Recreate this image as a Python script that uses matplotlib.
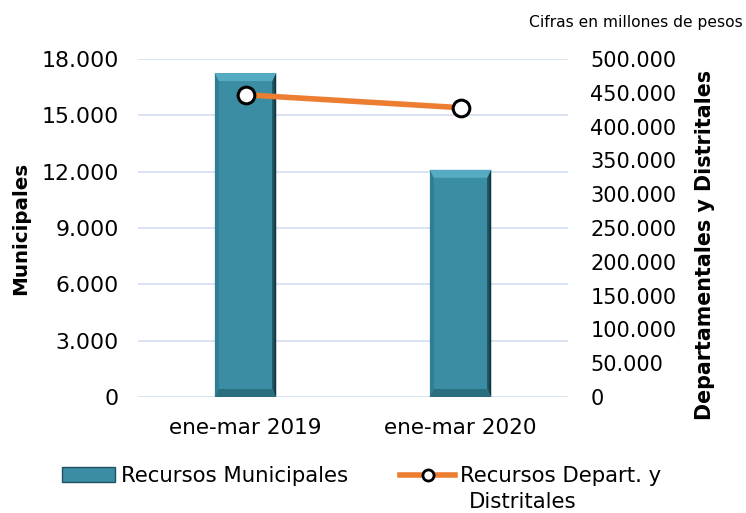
import matplotlib
matplotlib.use("Agg")
import matplotlib.pyplot as plt
import numpy as np
from matplotlib.lines import Line2D
from matplotlib.patches import Patch, Polygon
from matplotlib.ticker import FuncFormatter

categories = ["ene-mar 2019", "ene-mar 2020"]
municipales = [17250, 12100]
departamentales = [447000, 428000]
left_ticks = [0, 3000, 6000, 9000, 12000, 15000, 18000]
right_ticks = [0, 50000, 100000, 150000, 200000, 250000, 300000, 350000, 400000, 450000, 500000]

plt.rcParams['font.family'] = ['DejaVu Sans']

fig = plt.figure(figsize=(7.46, 5.13), dpi=100)
ax = fig.add_axes([138/746, 1-397/513, 430/746, 338/513])
ax2 = ax.twinx()

x = np.arange(len(categories))
face = "#3A8DA2"
bars = ax.bar(x, municipales, width=0.285, color=face, linewidth=0, zorder=3)

ax.set_xlim(-0.5, 1.5)
ax.set_ylim(0, 18000)
ax2.set_ylim(0, 500000)

# bevel effect derived from each bar's geometry
dx = 0.5 * 2 * 8 / 430      # ~8 px in data units (x)
dy = 18000 * 8 / 338        # ~8 px in data units (y)
for b in bars:
    x0, w, h = b.get_x(), b.get_width(), b.get_height()
    x1 = x0 + w
    top = Polygon([(x0, h), (x1, h), (x1 - dx, h - dy), (x0 + dx, h - dy)], closed=True,
                  facecolor="#55ACC2", linewidth=0, zorder=3.6)
    left = Polygon([(x0, 0), (x0, h), (x0 + dx, h - dy), (x0 + dx, dy)], closed=True,
                   facecolor="#317E92", linewidth=0, zorder=3.5)
    right = Polygon([(x1, 0), (x1, h), (x1 - dx, h - dy), (x1 - dx, dy)], closed=True,
                    facecolor="#1F5361", linewidth=0, zorder=3.5)
    right2 = Polygon([(x1, 0), (x1, h), (x1 - dx * 0.45, h - dy * 0.45), (x1 - dx * 0.45, dy * 0.45)],
                     closed=True, facecolor="#143842", linewidth=0, zorder=3.55)
    bottom = Polygon([(x0, 0), (x1, 0), (x1 - dx, dy), (x0 + dx, dy)], closed=True,
                     facecolor="#2A6E80", linewidth=0, zorder=3.6)
    for p in (left, right, right2, top, bottom):
        ax.add_patch(p)

ax2.plot(x, departamentales, color="#ED7D31", linewidth=4, marker="o", markersize=12,
         markerfacecolor="white", markeredgecolor="black", markeredgewidth=2.2, zorder=5)

ax.set_yticks(left_ticks)
ax2.set_yticks(right_ticks)
fmt = FuncFormatter(lambda v, p: f"{int(v):,}".replace(",", "."))
ax.yaxis.set_major_formatter(fmt)
ax2.yaxis.set_major_formatter(fmt)
ax.set_xticks(x)
ax.set_xticklabels(categories)

ax.grid(axis="y", color="#D6E0F0", linewidth=1.3, zorder=0)
ax.set_axisbelow(True)
for a in (ax, ax2):
    for s in a.spines.values():
        s.set_visible(False)
    a.tick_params(length=0, colors="#000000")
ax.tick_params(axis="y", labelsize=15.8, pad=14)
ax.tick_params(axis="x", labelsize=15.5, pad=15)
ax2.tick_params(axis="y", labelsize=15, pad=16)

ax.set_ylabel("Municipales", fontsize=14.3, fontweight="bold")
ax.yaxis.set_label_coords(-0.250, 0.5)
ax2.set_ylabel("Departamentales y Distritales", fontsize=14.9, fontweight="bold")
ax2.yaxis.set_label_coords(1.295, 0.45)

fig.text(0.995, 0.957, "Cifras en millones de pesos", ha="right", va="center", fontsize=11.2)

h1 = Patch(facecolor=face, edgecolor="#1F5361")
h2 = Line2D([0], [0], color="#ED7D31", linewidth=4, marker="o", markersize=8,
            markerfacecolor="white", markeredgecolor="black", markeredgewidth=2)
fig.legend([h1], ["Recursos Municipales"], loc="center left",
           bbox_to_anchor=(62/746, 1-476/513), frameon=False, fontsize=15.3,
           handlelength=2.5, handleheight=0.67, handletextpad=0.28, borderpad=0, borderaxespad=0)
fig.legend([h2], ["Recursos Depart. y"], loc="center left",
           bbox_to_anchor=(400/746, 1-476/513), frameon=False, fontsize=15.3,
           handlelength=2.6, handletextpad=0.2, borderpad=0, borderaxespad=0)
fig.text(469/746, 1-502/513, "Distritales", ha="left", va="center", fontsize=15.3)

fig.savefig("out.png", dpi=100)
